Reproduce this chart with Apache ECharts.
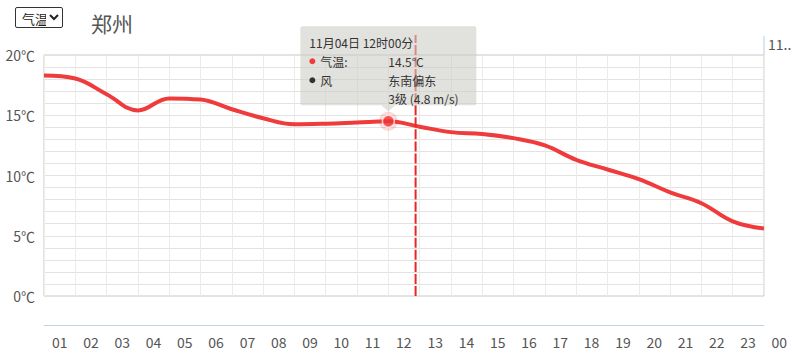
<!DOCTYPE html>
<html><head><meta charset="utf-8">
<script src="https://cdn.jsdelivr.net/npm/echarts@6/dist/echarts.min.js"></script>
<style>
html,body{margin:0;padding:0;background:#fff;}
#c{width:796px;height:361px;position:relative;}
#sel{position:absolute;left:15px;top:7px;width:48px;height:21px;font-size:13px;font-family:"Noto Sans CJK SC",sans-serif;border:1px solid #333;border-radius:2px;background:#fff;color:#222;padding:0 0 0 2px;z-index:5;}
</style></head>
<body>
<div style="position:relative;width:796px;height:361px;">
<select id="sel"><option>气温</option><option>降水</option><option>风速</option></select>
<div id="c"></div>
</div>
<script>
const cityName = '郑州';
const hourTicks = ['01','02','03','04','05','06','07','08','09','10','11','12','13','14','15','16','17','18','19','20','21','22','23','00'];
const hours = [1,2,3,4,5,6,7,8,9,10,11,12,13,14,15,16,17,18,19,20,21,22,23,24];
const temps = [18.3,18.05,16.75,15.4,16.4,16.3,15.5,14.75,14.25,14.3,14.4,14.5,14.05,13.6,13.45,13.1,12.5,11.3,10.5,9.7,8.6,7.7,6.2,5.6];
const highlightIndex = 11;
const nowHour = 12.87;
const nowLineRange = [0, 21.66];
const tipTime = '11月04日 12时00分';
const tipTempLabel = '气温:';
const tipWindLabel = '风';
const tipWindDir = '东南偏东';
const tipWindLevel = '3级 (4.8 m/s)';
const topRightLabel = '11..';

const FONT = '"Noto Sans CJK SC", sans-serif';
const chart = echarts.init(document.getElementById('c'), null, {renderer:'svg'});
const lineData = hours.map((h,i)=>[h, temps[i]]);
const nowLineData = nowLineRange.map(v=>[nowHour, v]);
const option = {
  animation:false,
  textStyle:{fontFamily:FONT},
  title:{text:cityName,left:86,top:7,textStyle:{fontSize:21,fontWeight:'normal',color:'#555',fontFamily:FONT}},
  grid:[
    {left:44,top:55,width:720,height:241,show:true,borderColor:'#c4c8cc',borderWidth:1,backgroundColor:'transparent'},
    {left:44,top:324,width:751,height:1},
    {left:44,top:324,width:720,height:1}
  ],
  xAxis:[
    {gridIndex:0,type:'value',min:1,max:24,interval:1,axisLine:{show:false},axisTick:{show:false},axisLabel:{show:false},splitLine:{show:true,lineStyle:{color:'#ecece6',width:1}}},
    {gridIndex:1,type:'category',data:hourTicks,boundaryGap:true,axisLine:{show:false},axisTick:{show:false},axisLabel:{fontSize:14,color:'#555',margin:10,interval:0,fontFamily:FONT},splitLine:{show:false}},
    {gridIndex:2,type:'value',min:0,max:1,axisLine:{show:true,lineStyle:{color:'#c3d3e2',width:1}},axisTick:{show:false},axisLabel:{show:false},splitLine:{show:false}}
  ],
  yAxis:[
    {gridIndex:0,type:'value',min:0,max:20,interval:1,axisLine:{show:false},axisTick:{show:false},
      axisLabel:{fontSize:14,color:'#555',margin:9,fontFamily:FONT,formatter:v=> (v%5===0? v+'℃':'')},
      splitLine:{show:true,lineStyle:{color:'#e2e2e2',width:1}}},
    {gridIndex:1,type:'value',show:false},
    {gridIndex:2,type:'value',show:false}
  ],
  series:[
    {type:'line',xAxisIndex:0,yAxisIndex:0,data:lineData,smooth:0.4,showSymbol:false,clip:false,
      lineStyle:{color:'#ef3b3b',width:4},itemStyle:{color:'#ef3b3b'},z:3,silent:true},
    {type:'line',xAxisIndex:0,yAxisIndex:0,data:nowLineData,showSymbol:false,clip:false,silent:true,
      lineStyle:{color:'#ec2424',width:2,type:[10,2.05]},z:6},
    {type:'scatter',xAxisIndex:0,yAxisIndex:0,data:[lineData[highlightIndex]],symbolSize:19,
      itemStyle:{color:'rgba(240,70,70,0.25)'},z:4,silent:true},
    {type:'scatter',xAxisIndex:0,yAxisIndex:0,data:[lineData[highlightIndex]],symbolSize:12,
      itemStyle:{color:'#ef3434',borderColor:'rgba(255,255,255,0.85)',borderWidth:1.5},z:5,silent:true}
  ]
};
chart.setOption(option);

const p = chart.convertToPixel({gridIndex:0}, lineData[highlightIndex]);
const cornerX = chart.convertToPixel({gridIndex:0}, [24, 20]);
const bx = p[0]-88, by = p[1]-95, bw = 176, bh = 79;
chart.setOption({graphic:[
  {type:'line',shape:{x1:cornerX[0],y1:cornerX[1]-19,x2:cornerX[0],y2:cornerX[1]},style:{stroke:'#b9cde0',lineWidth:1},z:10},
  {type:'text',left:cornerX[0]+4,top:cornerX[1]-18,style:{text:topRightLabel,fontSize:14,fill:'#555',fontFamily:FONT},z:10},
  {type:'group',z:100,children:[
    {type:'rect',shape:{x:bx,y:by,width:bw,height:bh,r:2},style:{fill:'rgba(205,205,200,0.6)'},z:100},
    {type:'polygon',shape:{points:[[p[0]-7,by+bh],[p[0]+7,by+bh],[p[0],by+bh+6]]},style:{fill:'rgba(205,205,200,0.6)'},z:100},
    {type:'text',x:bx+9,y:by+16,style:{text:tipTime,fontSize:12,fill:'#333',fontFamily:FONT,verticalAlign:'middle'},z:101},
    {type:'circle',shape:{cx:bx+12,cy:by+35,r:3},style:{fill:'#ef3b3b'},z:101},
    {type:'text',x:bx+20,y:by+35,style:{text:tipTempLabel,fontSize:12,fill:'#333',fontFamily:FONT,verticalAlign:'middle'},z:101},
    {type:'text',x:bx+88,y:by+35,style:{text:temps[highlightIndex].toFixed(1)+'°C',fontSize:12,fill:'#333',fontFamily:FONT,verticalAlign:'middle'},z:101},
    {type:'circle',shape:{cx:bx+12,cy:by+54,r:3},style:{fill:'#333'},z:101},
    {type:'text',x:bx+20,y:by+54,style:{text:tipWindLabel,fontSize:12,fill:'#333',fontFamily:FONT,verticalAlign:'middle'},z:101},
    {type:'text',x:bx+88,y:by+54,style:{text:tipWindDir,fontSize:12,fill:'#333',fontFamily:FONT,verticalAlign:'middle'},z:101},
    {type:'text',x:bx+88,y:by+72,style:{text:tipWindLevel,fontSize:12,fill:'#333',fontFamily:FONT,verticalAlign:'middle'},z:101}
  ]}
]});
</script>
</body></html>
